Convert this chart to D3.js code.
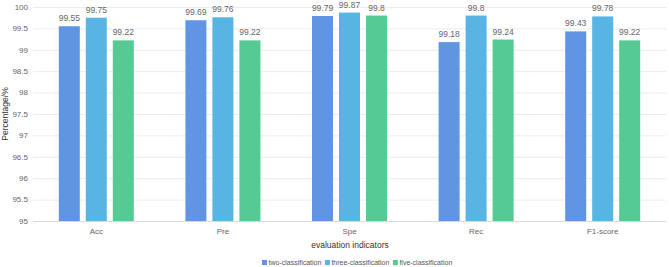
<!DOCTYPE html>
<html>
<head>
<meta charset="utf-8">
<script src="https://cdn.jsdelivr.net/npm/d3@7"></script>
<style>
  body { margin: 0; background: #fff; }
  text { font-family: "Liberation Sans", Arial, sans-serif; }
</style>
</head>
<body>
<svg width="669" height="267"></svg>
<script>
(function () {

	var categories = ["Acc", "Pre", "Spe", "Rec", "F1-score"];
	var seriesNames = ["two-classification", "three-classification", "five-classification"];
	var twoClass = [99.55, 99.69, 99.79, 99.18, 99.43];
	var threeClass = [99.75, 99.76, 99.87, 99.8, 99.78];
	var fiveClass = [99.22, 99.22, 99.8, 99.24, 99.22];
	var yTicks = [95, 95.5, 96, 96.5, 97, 97.5, 98, 98.5, 99, 99.5, 100];
	var colors = ["#5f95e3", "#58b5e3", "#55cb93"];

	var series = [twoClass, threeClass, fiveClass];

	var svg = d3.select("svg");

	var xScale = d3.scaleBand()
		.domain(categories)
		.range([33, 666]);

	var inner = d3.scaleBand()
		.domain(seriesNames)
		.range([0, 75])
		.paddingInner(0.222);

	var yScale = d3.scaleLinear()
		.domain([95, 100])
		.range([221, 7]);

	// grid
	svg.append("g")
		.selectAll("line")
		.data(yTicks)
		.enter()
		.append("line")
		.attr("x1", 33)
		.attr("x2", 666)
		.attr("y1", function (d) { return yScale(d) + 0.5; })
		.attr("y2", function (d) { return yScale(d) + 0.5; })
		.attr("stroke", function (d) { return d === 95 ? "#d9d9d9" : "#ececec"; })
		.attr("stroke-width", 1);

	// y labels
	svg.append("g")
		.selectAll("text")
		.data(yTicks)
		.enter()
		.append("text")
		.attr("x", 28)
		.attr("y", function (d) { return yScale(d); })
		.attr("dy", "0.35em")
		.attr("text-anchor", "end")
		.attr("font-size", 8)
		.attr("fill", "#666")
		.text(function (d) { return d; });

	// bars
	var groups = svg.append("g")
		.selectAll("g")
		.data(categories)
		.enter()
		.append("g")
		.attr("transform", function (d) {
			return "translate(" + (xScale(d) + xScale.bandwidth() / 2 - 37.5) + ",0)";
		});

	groups.selectAll("rect")
		.data(function (d, i) {
			return series.map(function (s, j) { return { name: seriesNames[j], value: s[i], k: j }; });
		})
		.enter()
		.append("rect")
		.attr("x", function (d) { return inner(d.name); })
		.attr("width", inner.bandwidth())
		.attr("y", function (d) { return yScale(d.value); })
		.attr("height", function (d) { return yScale(95) - yScale(d.value); })
		.attr("fill", function (d) { return colors[d.k]; });

	groups.selectAll("text")
		.data(function (d, i) {
			return series.map(function (s, j) { return { name: seriesNames[j], value: s[i] }; });
		})
		.enter()
		.append("text")
		.attr("x", function (d) { return inner(d.name) + inner.bandwidth() / 2; })
		.attr("y", function (d) { return yScale(d.value) - 5; })
		.attr("text-anchor", "middle")
		.attr("font-size", 8.5)
		.attr("fill", "#666")
		.text(function (d) { return d.value; });

	// x labels
	svg.append("g")
		.selectAll("text")
		.data(categories)
		.enter()
		.append("text")
		.attr("x", function (d) { return xScale(d) + xScale.bandwidth() / 2; })
		.attr("y", 234)
		.attr("text-anchor", "middle")
		.attr("font-size", 8)
		.attr("fill", "#666")
		.text(function (d) { return d; });

	svg.append("text")
		.attr("x", 350)
		.attr("y", 248)
		.attr("text-anchor", "middle")
		.attr("font-size", 8.5)
		.attr("fill", "#333")
		.text("evaluation indicators");

	svg.append("text")
		.attr("transform", "translate(8,114) rotate(-90)")
		.attr("text-anchor", "middle")
		.attr("font-size", 8.5)
		.attr("fill", "#333")
		.text("Percentage/%");

	// legend, items laid out one after another
	var legend = svg.append("g")
		.selectAll("g")
		.data(seriesNames)
		.enter()
		.append("g");

	legend.append("rect")
		.attr("width", 5)
		.attr("height", 5)
		.attr("fill", function (d, i) { return colors[i]; });

	legend.append("text")
		.attr("x", 6.5)
		.attr("y", 5.2)
		.attr("font-size", 7)
		.attr("fill", "#555")
		.text(function (d) { return d; });

	var lx = 262;
	legend.each(function () {
		d3.select(this).attr("transform", "translate(" + lx + ",260)");
		lx += 6.5 + d3.select(this).select("text").node().getComputedTextLength() + 3.5;
	});

})();
</script>
</body>
</html>
